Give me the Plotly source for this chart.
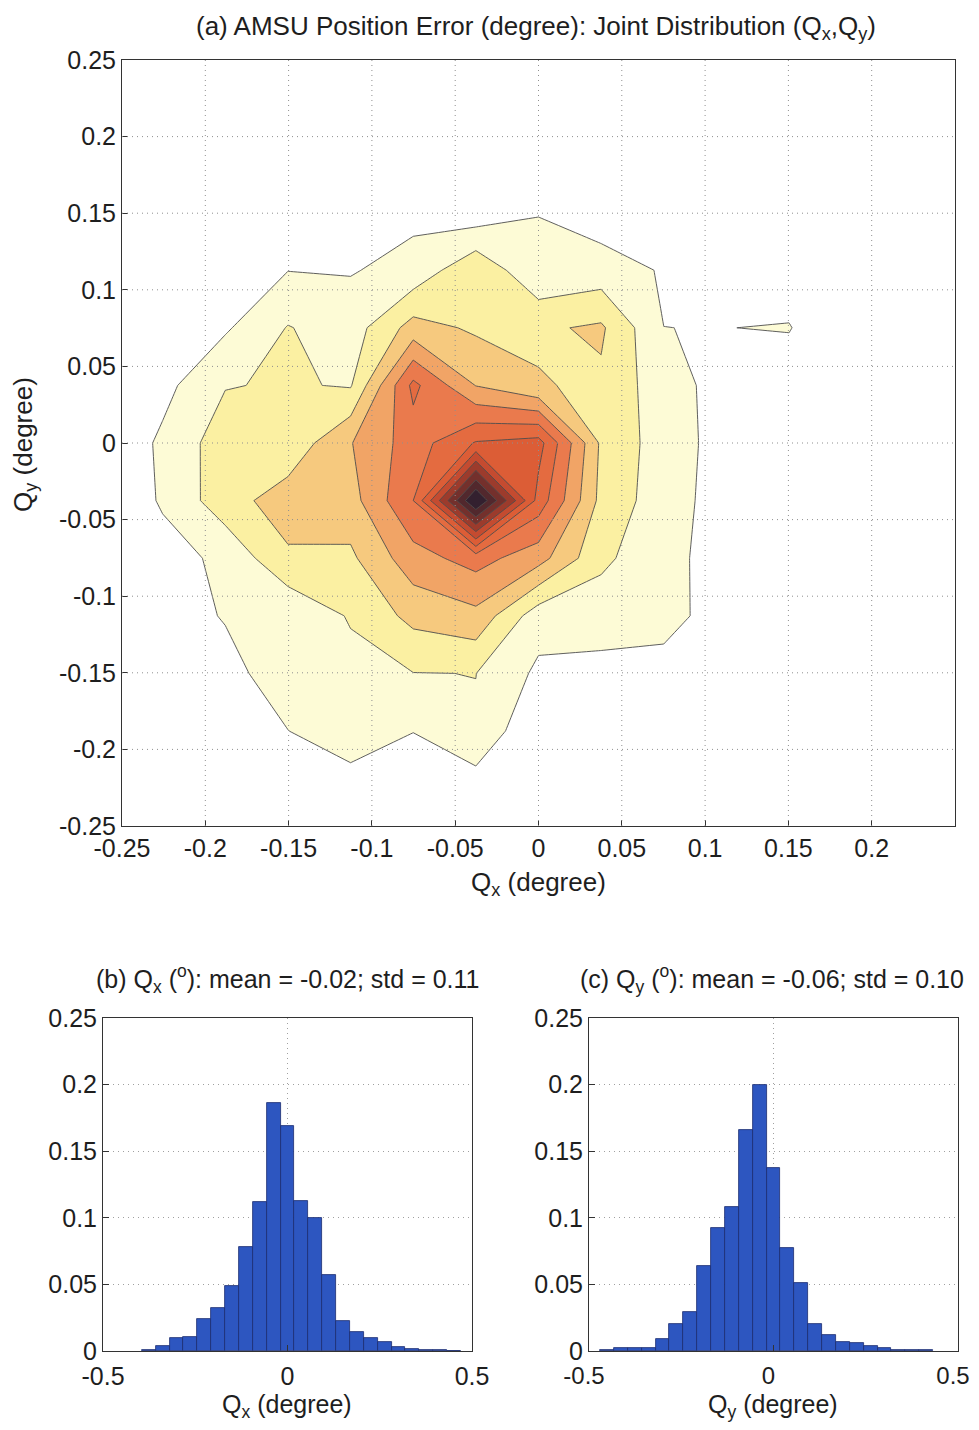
import plotly.graph_objects as go

# ---------------- data ----------------
# bin centres of the joint / marginal histograms (degree)
GRID = [-0.2632, -0.2256, -0.1880, -0.1504, -0.1128, -0.0752, -0.0376, 0.0,
        0.0376, 0.0752, 0.1128, 0.1504, 0.1880, 0.2256, 0.2632]

# joint distribution (relative units), rows = Qy from -0.2632 (bottom) to 0.2632 (top)
Z = [
    [0, 0, 0, 0, 0, 0, 0, 0, 0, 0, 0, 0, 0, 0, 0],
    [0, 0, 0, 0, 0.2, 0, 0.42, 0, 0, 0, 0, 0, 0, 0, 0],
    [0, 0, 0.2, 0.98, 1.98, 1.03, 1.9, 0, 0, 0, 0, 0, 0, 0, 0],
    [0, 0, 0.5, 1.82, 1.65, 1.98, 2.01, 0.81, 0.67, 0.5, 0.1, 0, 0, 0, 0],
    [0, 0.3, 1.1, 1.13, 2.1, 3.3, 3.72, 1.42, 1.5, 1.48, 0.34, 0, 0, 0, 0],
    [0, 0.6, 1.23, 2.84, 2.81, 4.6, 5.4, 4.4, 2.2, 1.35, 0.5, 0, 0, 0, 0],
    [0, 1.12, 2.58, 3.5, 3.6, 6.0, 13.2, 6.6, 2.7, 1.45, 0.55, 0.2, 0, 0, 0],
    [0, 1.19, 2.54, 2.3, 3.95, 5.5, 7.08, 7.4, 2.82, 1.5, 0.6, 0.3, 0, 0, 0],
    [0, 0.70, 1.95, 2.1, 1.917, 6.26, 3.97, 3.07, 2.83, 1.4, 0.63, 0.47, 0, 0, 0],
    [0, 0, 0.87, 2.05, 1.5, 3.4, 2.84, 2.85, 3.15, 1.002, 0.99, 1.05, 0, 0, 0],
    [0, 0, 0.3, 0.98, 0.94, 1.3, 2.83, 1.12, 1.43, 0.92, 0.3, 0.47, 0, 0, 0],
    [0, 0, 0, 0.2, 0.5, 0.79, 0.39, 0.99, 0.5, 0.3, 0, 0, 0, 0, 0],
    [0, 0, 0, 0, 0, 0, 0, 0, 0, 0, 0, 0, 0, 0, 0],
    [0, 0, 0, 0, 0, 0, 0, 0, 0, 0, 0, 0, 0, 0, 0],
    [0, 0, 0, 0, 0, 0, 0, 0, 0, 0, 0, 0, 0, 0, 0],
]

# marginal histogram of Qx
QX_CENTERS = [-0.376, -0.3384, -0.3008, -0.2632, -0.2256, -0.188, -0.1504, -0.1128,
              -0.0752, -0.0376, 0.0, 0.0376, 0.0752, 0.1128, 0.1504, 0.188, 0.2256,
              0.2632, 0.3008, 0.3384, 0.376, 0.4136, 0.4512]
QX_FREQ = [0.001, 0.004, 0.0095, 0.0105, 0.024, 0.0325, 0.049, 0.078, 0.112, 0.186,
           0.169, 0.1125, 0.100, 0.057, 0.0225, 0.014, 0.0095, 0.007, 0.003, 0.0015,
           0.0008, 0.0004, 0.0003]

# marginal histogram of Qy
QY_CENTERS = [-0.4512, -0.4136, -0.376, -0.3384, -0.3008, -0.2632, -0.2256, -0.188,
              -0.1504, -0.1128, -0.0752, -0.0376, 0.0, 0.0376, 0.0752, 0.1128, 0.1504,
              0.188, 0.2256, 0.2632, 0.3008, 0.3384, 0.376, 0.4136]
QY_FREQ = [0.0005, 0.002, 0.0025, 0.0025, 0.009, 0.02, 0.029, 0.064, 0.092, 0.108,
           0.166, 0.200, 0.1375, 0.077, 0.051, 0.020, 0.012, 0.007, 0.006, 0.004,
           0.002, 0.001, 0.0008, 0.0005]

TOP_TICKS_X = [-0.25, -0.2, -0.15, -0.1, -0.05, 0, 0.05, 0.1, 0.15, 0.2]
TOP_TICKS_Y = [-0.25, -0.2, -0.15, -0.1, -0.05, 0, 0.05, 0.1, 0.15, 0.2, 0.25]
HIST_TICKS_X = [-0.5, 0, 0.5]
HIST_TICKS_Y = [0, 0.05, 0.1, 0.15, 0.2, 0.25]

BAND_COLORS = ["#ffffff", "#fdfbd6", "#fbf0a2", "#f6c97e", "#f1a466", "#ea7a4d",
               "#e46b40", "#dc5d36", "#c44b30", "#9c3b2c", "#74302c", "#52282d",
               "#33202f"]

# ---------------- figure ----------------
# the page body has an 8 px margin: the figure is placed at (8, 8) in the window,
# and is kept small enough that the page never overflows the 979x1430 window
OFF = 8
W, H = 979 - 2 * OFF, 1430 - 2 * OFF
FONT = "Liberation Sans, Arial, sans-serif"
TXT = "#1e1e1e"


def dom_x(a, b):
    return [(a - OFF) / W, (b - OFF) / W]


def dom_y(top, bottom):
    return [1 - (bottom - OFF) / H, 1 - (top - OFF) / H]


n = len(BAND_COLORS)
cscale = [[k / (n - 1), c] for k, c in enumerate(BAND_COLORS)]

fig = go.Figure()
fig.add_trace(go.Contour(
    x=GRID, y=GRID, z=Z,
    contours=dict(start=1, end=12, size=1, coloring="fill"),
    colorscale=cscale, showscale=False,
    line=dict(color="#4d4d4d", width=0.9, smoothing=0),
    xaxis="x", yaxis="y", hoverinfo="skip",
))

bar_style = dict(marker=dict(color="#2d56c0", line=dict(color="#1b2c70", width=0.8)),
                 width=0.0376, showlegend=False)
fig.add_trace(go.Bar(x=QX_CENTERS, y=QX_FREQ, xaxis="x2", yaxis="y2", **bar_style))
fig.add_trace(go.Bar(x=QY_CENTERS, y=QY_FREQ, xaxis="x3", yaxis="y3", **bar_style))

axis_common = dict(showline=True, linecolor="#333333", linewidth=1, mirror=True,
                   ticks="inside", ticklen=6, tickcolor="#333333", zeroline=False,
                   automargin=False,
                   tickfont=dict(family=FONT, size=25, color=TXT))
hgrid = dict(showgrid=True, gridcolor="#a0a0a0", griddash="1px,4px", gridwidth=1)

fig.update_layout(
    template="none",
    width=W, height=H, margin=dict(l=0, r=0, t=0, b=0, pad=0),
    paper_bgcolor="white", plot_bgcolor="white", bargap=0,
    font=dict(family=FONT, size=25, color=TXT),
    xaxis=dict(domain=dom_x(122, 955), range=[-0.25, 0.25], tickvals=TOP_TICKS_X,
               ticktext=[f"{v:g}" for v in TOP_TICKS_X], showgrid=False,
               anchor="y", **axis_common),
    yaxis=dict(domain=dom_y(60, 826), range=[-0.25, 0.25], tickvals=TOP_TICKS_Y,
               ticktext=[f"{v:g}" for v in TOP_TICKS_Y], showgrid=False,
               anchor="x", **axis_common),
    xaxis2=dict(domain=dom_x(103, 472), range=[-0.5, 0.5], tickvals=HIST_TICKS_X,
                ticktext=[f"{v:g}" for v in HIST_TICKS_X], ticklabelstandoff=3,
                anchor="y2", **hgrid, **axis_common),
    yaxis2=dict(domain=dom_y(1018, 1351), range=[0, 0.25], tickvals=HIST_TICKS_Y,
                ticktext=[f"{v:g}" for v in HIST_TICKS_Y],
                anchor="x2", **hgrid, **axis_common),
    xaxis3=dict(domain=dom_x(589, 958), range=[-0.5, 0.5], tickvals=HIST_TICKS_X,
                ticktext=[f"{v:g}" for v in HIST_TICKS_X], ticklabelstandoff=3,
                ticklabelshift=-5, ticklabeloverflow="allow",
                anchor="y3", **hgrid, **axis_common),
    yaxis3=dict(domain=dom_y(1018, 1351), range=[0, 0.25], tickvals=HIST_TICKS_Y,
                ticktext=[f"{v:g}" for v in HIST_TICKS_Y],
                anchor="x3", **hgrid, **axis_common),
)
fig.update_xaxes(selector=dict(anchor="y3"), tickfont=dict(family=FONT, size=24, color=TXT))

# dotted grid of the joint-distribution panel, drawn above the filled contours
shapes = []
for v in TOP_TICKS_X[1:]:
    shapes.append(dict(type="line", xref="x", yref="y", x0=v, x1=v, y0=-0.25, y1=0.25,
                       line=dict(color="#8f8f8f", width=1, dash="1px,4px"), layer="above"))
for v in TOP_TICKS_Y[1:-1]:
    shapes.append(dict(type="line", xref="x", yref="y", x0=-0.25, x1=0.25, y0=v, y1=v,
                       line=dict(color="#8f8f8f", width=1, dash="1px,4px"), layer="above"))
fig.update_layout(shapes=shapes)

ann = []


def text(x, y, s, size=25, angle=0, yanchor="middle"):
    ann.append(dict(x=(x - OFF) / W, y=1 - (y - OFF) / H, xref="paper", yref="paper",
                    text=s, showarrow=False, textangle=angle, xanchor="center",
                    yanchor=yanchor, font=dict(family=FONT, size=size, color=TXT)))


text(536, 9, "(a) AMSU Position Error (degree): Joint Distribution (Q<sub>x</sub>,Q<sub>y</sub>)",
     size=26, yanchor="top")
text(538, 883, "Q<sub>x</sub> (degree)", size=26)
text(25, 445, "Q<sub>y</sub> (degree)", size=26, angle=-90)
text(287, 979, "(b) Q<sub>x</sub> (<sup>o</sup>): mean = -0.02; std = 0.11")
text(772, 979, "(c) Q<sub>y</sub> (<sup>o</sup>): mean = -0.06; std = 0.10")
text(287, 1406, "Q<sub>x</sub> (degree)")
text(773, 1406, "Q<sub>y</sub> (degree)")
fig.update_layout(annotations=ann)

fig.write_html("out.html")
